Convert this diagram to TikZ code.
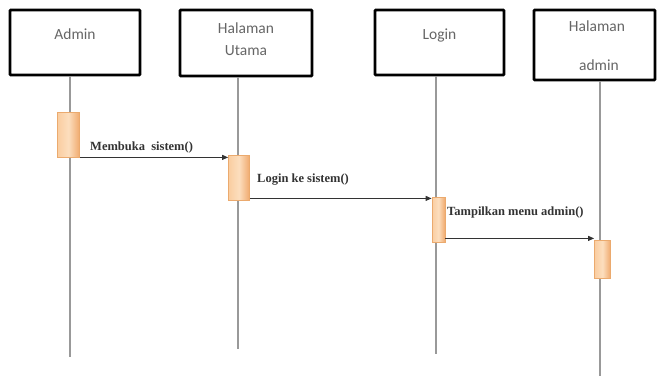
\documentclass[tikz,border=0pt]{standalone}
\usepackage{fontspec}
\setmainfont{Liberation Serif}
\newfontfamily\boxfont{Carlito}
\usetikzlibrary{arrows.meta}
\definecolor{actdraw}{RGB}{235,170,110}
\definecolor{actleft}{RGB}{250,205,160}
\definecolor{actright}{RGB}{240,170,110}
\definecolor{actmid}{RGB}{252,222,190}
\begin{document}
\begin{tikzpicture}[x=1pt,y=-1pt,
  objbox/.style={draw=black,line width=2.8pt,fill=white,inner sep=0pt,rounded corners=0.8pt},
  objtext/.style={font=\boxfont\fontsize{15.5}{18}\selectfont,text=black!60,inner sep=0pt},
  life/.style={draw=black!40,line width=1.3pt},
  actbox/.style={draw=actdraw,line width=0.8pt,inner sep=0pt,left color=actleft,right color=actright,middle color=actmid},
  msg/.style={draw=black!80,line width=1pt,-{Triangle[length=6pt,width=5pt]}},
  lbl/.style={font=\bfseries\fontsize{12.5}{14}\selectfont,text=black!80,inner sep=0pt}
]
\useasboundingbox (0,0) rectangle (657,376);
% objects
\node[objbox,minimum width=130pt,minimum height=65pt] (admin) at (75,42.5) {};
\node[objtext] (admint) at (75,34) {Admin};
\node[objbox,minimum width=132pt,minimum height=66pt] (hu) at (246,43) {};
\node[objtext] (hut1) at (246,28) {Halaman};
\node[objtext] (hut2) at (246,51) {Utama};
\node[objbox,minimum width=129pt,minimum height=65pt] (login) at (439.5,42.5) {};
\node[objtext] (logint) at (439.5,35) {Login};
\node[objbox,minimum width=121pt,minimum height=70pt] (ha) at (594.5,45) {};
\node[objtext] (hat1) at (597,26) {Halaman};
\node[objtext] (hat2) at (599,65) {admin};
% lifeline ends
\coordinate (e1) at (70,357);
\coordinate (e2) at (238,349);
\coordinate (e3) at (436,354);
\coordinate (e4) at (600,376);
\draw[life] (admin.south -| e1) -- (e1);
\draw[life] (hu.south -| e2) -- (e2);
\draw[life] (login.south -| e3) -- (e3);
\draw[life] (ha.south -| e4) -- (e4);
% activations
\node[actbox,minimum width=22pt,minimum height=45pt] (a1) at (68.5,134.5) {};
\node[actbox,minimum width=21pt,minimum height=45pt] (a2) at (239,177.5) {};
\node[actbox,minimum width=13pt,minimum height=45pt] (a3) at (438.5,219.5) {};
\node[actbox,minimum width=16pt,minimum height=38pt] (a4) at (602.5,259) {};
% messages
\coordinate (s2) at ([yshift=2pt]a2.south east);
\coordinate (s3) at ([yshift=4pt]a3.south east);
\draw[msg] (a1.south east) -- (a2.west |- a1.south east);
\draw[msg] (s2) -- (a3.west |- s2);
\draw[msg] (s3) -- (a4.west |- s3);
\node[lbl,anchor=west] (m1) at (90,147.5) {Membuka\ \ sistem()};
\node[lbl,anchor=west] (m2) at (257,180) {Login ke sistem()};
\node[lbl,anchor=west] (m3) at (447,212) {Tampilkan menu admin()};
\end{tikzpicture}
\end{document}
